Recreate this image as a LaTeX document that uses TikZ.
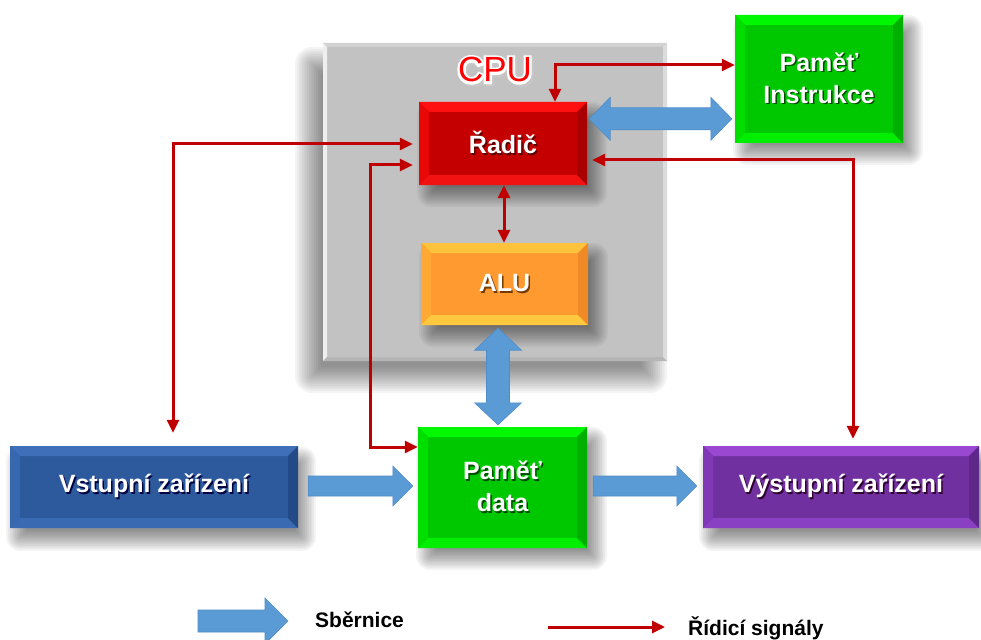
\documentclass[tikz,border=0pt]{standalone}
\usepackage{fontspec}
\setmainfont{Liberation Sans}
\newfontfamily\halofont[FakeBold=14]{Liberation Sans}
\usetikzlibrary{arrows.meta,calc}

\definecolor{sigred}{HTML}{C00000}
\definecolor{busblue}{HTML}{5B9BD5}
\definecolor{busedge}{HTML}{4F8CC9}
% unit face colours: base, top, left, bottom, right
\definecolor{rdBase}{HTML}{C40000}\definecolor{rdTop}{HTML}{FF1010}\definecolor{rdLeft}{HTML}{E80808}\definecolor{rdBot}{HTML}{F21212}\definecolor{rdRight}{HTML}{A80000}
\definecolor{alBase}{HTML}{FF9A30}\definecolor{alTop}{HTML}{FFC23C}\definecolor{alLeft}{HTML}{FFA834}\definecolor{alBot}{HTML}{FFC83E}\definecolor{alRight}{HTML}{F08A26}
\definecolor{gnBase}{HTML}{00C800}\definecolor{gnTop}{HTML}{00F800}\definecolor{gnLeft}{HTML}{00DE00}\definecolor{gnBot}{HTML}{00EE00}\definecolor{gnRight}{HTML}{00B000}
\definecolor{blBase}{HTML}{2D5A9C}\definecolor{blTop}{HTML}{3F6FB8}\definecolor{blLeft}{HTML}{3767AE}\definecolor{blBot}{HTML}{3A6AB2}\definecolor{blRight}{HTML}{234A86}
\definecolor{vlBase}{HTML}{7030A0}\definecolor{vlTop}{HTML}{9A48D2}\definecolor{vlLeft}{HTML}{8038B6}\definecolor{vlBot}{HTML}{8A40C2}\definecolor{vlRight}{HTML}{5E2788}
\definecolor{cpBase}{HTML}{C2C2C2}\definecolor{cpTop}{HTML}{D2D2D2}\definecolor{cpLeft}{HTML}{EEEEEE}\definecolor{cpBot}{HTML}{B6B6B6}\definecolor{cpRight}{HTML}{DCDCDC}

% white label with a soft dark drop shadow
\newcommand\txtsh[2][black!60]{\leavevmode\rlap{\kern1.5pt\raisebox{-1.5pt}{\color{#1}#2}}#2}
% red title with a white halo
\newcommand\outlined[1]{\leavevmode
  \rlap{\kern2.2pt\raisebox{-2.2pt}{\halofont\color{black!22}#1}}%
  \rlap{\halofont\color{white}#1}#1}

% soft drop shadow: centre x, centre y, width, height, offset x, offset y, blur
\newcommand\softshadow[7]{%
  \foreach \k in {0,...,11}{
    \pgfmathsetmacro\rc{max(1,#7-\k*#7/6+3)}
    \fill[black, opacity=0.045, rounded corners=\rc pt]
      ({#1+#5-#3/2-#7+\k*#7/6},{#2+#6-#4/2-#7+\k*#7/6}) rectangle
      ({#1+#5+#3/2+#7-\k*#7/6},{#2+#6+#4/2+#7-\k*#7/6});
  }}

% block arrows for the buses
\newcommand\busRight[5]{%
  \filldraw[bus] let \p1=(#1), \p2=(#2) in
    (\x1,\y1+#3) -- (\x2-#5,\y1+#3) -- (\x2-#5,\y1+#4) -- (\x2,\y1)
    -- (\x2-#5,\y1-#4) -- (\x2-#5,\y1-#3) -- (\x1,\y1-#3) -- cycle;}
\newcommand\busBothH[5]{%
  \filldraw[bus] let \p1=(#1), \p2=(#2) in
    (\x1,\y1) -- (\x1+#5,\y1+#4) -- (\x1+#5,\y1+#3) -- (\x2-#5,\y1+#3)
    -- (\x2-#5,\y1+#4) -- (\x2,\y1) -- (\x2-#5,\y1-#4) -- (\x2-#5,\y1-#3)
    -- (\x1+#5,\y1-#3) -- (\x1+#5,\y1-#4) -- cycle;}
\newcommand\busBothV[5]{%
  \filldraw[bus] let \p1=(#1), \p2=(#2) in
    (\x1,\y1) -- (\x1+#4,\y1-#5) -- (\x1+#3,\y1-#5) -- (\x1+#3,\y2+#5)
    -- (\x1+#4,\y2+#5) -- (\x1,\y2) -- (\x1-#4,\y2+#5) -- (\x1-#3,\y2+#5)
    -- (\x1-#3,\y1-#5) -- (\x1-#4,\y1-#5) -- cycle;}

\def\bevw{10pt}
\tikzset{
  bevel width/.code={\def\bevw{#1}},
  bevel/.style={fill=#1Base, path picture={
    \fill[#1Top] (path picture bounding box.north west) -- (path picture bounding box.north east)
      -- ([shift={(-\bevw,-\bevw)}]path picture bounding box.north east)
      -- ([shift={(\bevw,-\bevw)}]path picture bounding box.north west) -- cycle;
    \fill[#1Left] (path picture bounding box.north west) -- ([shift={(\bevw,-\bevw)}]path picture bounding box.north west)
      -- ([shift={(\bevw,\bevw)}]path picture bounding box.south west) -- (path picture bounding box.south west) -- cycle;
    \fill[#1Bot] (path picture bounding box.south west) -- ([shift={(\bevw,\bevw)}]path picture bounding box.south west)
      -- ([shift={(-\bevw,\bevw)}]path picture bounding box.south east) -- (path picture bounding box.south east) -- cycle;
    \fill[#1Right] (path picture bounding box.south east) -- ([shift={(-\bevw,\bevw)}]path picture bounding box.south east)
      -- ([shift={(-\bevw,-\bevw)}]path picture bounding box.north east) -- (path picture bounding box.north east) -- cycle;
  }},
  box/.style={inner sep=0pt, align=center, text=white,
    font=\bfseries\fontsize{25}{32}\selectfont},
  sig/.style={draw=sigred, line width=3pt,
    arrows={Triangle[length=13pt,width=12pt]-Triangle[length=13pt,width=12pt]}},
  legsig/.style={draw=sigred, line width=3pt, arrows={-Triangle[length=13pt,width=12pt]}},
  bus/.style={fill=busblue, draw=busedge, line width=0.6pt, line join=miter},
  legend/.style={inner sep=0pt, font=\bfseries\fontsize{21}{25}\selectfont, text=black},
}

\begin{document}
\begin{tikzpicture}[x=1pt, y=-1pt]
\useasboundingbox[fill=white] (0,0) rectangle (981,639);

% processor housing
\softshadow{495}{202}{344}{318}{-14}{18}{14}
\node[inner sep=0pt, minimum width=344pt, minimum height=318pt, bevel width=4pt, bevel=cp]
      (cpu) at (495,202) {};
\node[inner sep=0pt, text=red, font=\fontsize{35}{40}\selectfont] (cpulbl) at (495,71) {\outlined{CPU}};

% unit shadows
\softshadow{503}{143.5}{168}{83}{9}{11}{11}
\softshadow{504.5}{284}{167}{82}{9}{11}{11}
\softshadow{819}{79}{168}{128}{9}{11}{11}
\softshadow{502.5}{487.5}{169}{121}{9}{11}{11}
\softshadow{154}{487}{288}{82}{7}{12}{11}
\softshadow{841}{487}{276}{82}{7}{12}{11}

% units
\node[box, minimum width=168pt, minimum height=83pt, bevel=rd]
      (ctrl) at (503,143.5) {\txtsh[red!35!black]{Řadič}};
\node[box, minimum width=167pt, minimum height=82pt, bevel=al]
      (alu) at (504.5,284) {\txtsh[orange!45!black]{ALU}};
\node[box, minimum width=168pt, minimum height=128pt, bevel=gn]
      (imem) at (819,79) {\txtsh[green!30!black]{Paměť}\\\txtsh[green!30!black]{Instrukce}};
\node[box, minimum width=169pt, minimum height=121pt, bevel=gn]
      (mem) at (502.5,487.5) {\txtsh[green!30!black]{Paměť}\\\txtsh[green!30!black]{data}};
\node[box, minimum width=288pt, minimum height=82pt, bevel=bl]
      (vin) at (154,487) {\txtsh[blue!25!black]{Vstupní zařízení}};
\node[box, minimum width=276pt, minimum height=82pt, bevel=vl]
      (vout) at (841,487) {\txtsh[violet!35!black]{Výstupní zařízení}};

% control signals
\coordinate (c1) at (173,144);
\coordinate (c2) at (370,165);
\coordinate (c3) at (370,447);
\coordinate (c4) at (853,160);
\coordinate (c5) at (555,65);
\coordinate (c6) at (504,0);
\draw[sig, shorten <=13pt, shorten >=6pt] (vin.north -| c1) -- (c1) -- (ctrl.west |- c1);
\draw[sig, shorten <=6pt] (ctrl.west |- c2) -- (c2) -- (c3) -- (mem.west |- c3);
\draw[sig, shorten <=5pt, shorten >=7pt] (ctrl.east |- c4) -- (c4) -- (vout.north -| c4);
\draw[sig] (ctrl.north -| c5) -- (c5) -- (imem.west |- c5);
\draw[sig] (ctrl.south -| c6) -- (alu.north -| c6);

% buses
\coordinate (bi1) at ($(ctrl.north east)+(2,17)$);
\coordinate (bi2) at ($(imem.west |- bi1)+(-3,0)$);
\busBothH{bi1}{bi2}{11pt}{21.5pt}{21pt}
\coordinate (ba1) at ($(alu.south)+(-6.5,3)$);
\coordinate (ba2) at ($(ba1 |- mem.north)+(0,-2)$);
\busBothV{ba1}{ba2}{11.5pt}{23.5pt}{22pt}
\coordinate (bv1) at ($(vin.east)+(10,-1)$);
\coordinate (bv2) at ($(mem.west |- bv1)+(-5,0)$);
\busRight{bv1}{bv2}{10pt}{20pt}{20pt}
\coordinate (bo1) at ($(mem.east |- bv1)+(6,0)$);
\coordinate (bo2) at ($(vout.west |- bv1)+(-6,0)$);
\busRight{bo1}{bo2}{10pt}{20pt}{20pt}

% key
\coordinate (lb1) at (198,621);
\coordinate (lb2) at (288,621);
\busRight{lb1}{lb2}{11pt}{23pt}{23pt}
\node[legend, anchor=west] (lbtxt) at (315,620) {Sběrnice};
\coordinate (lr1) at (548,627);
\coordinate (lr2) at (665,627);
\draw[legsig] (lr1) -- (lr2);
\node[legend, anchor=west] (lrtxt) at (688,628) {Řídicí signály};
\end{tikzpicture}
\end{document}
